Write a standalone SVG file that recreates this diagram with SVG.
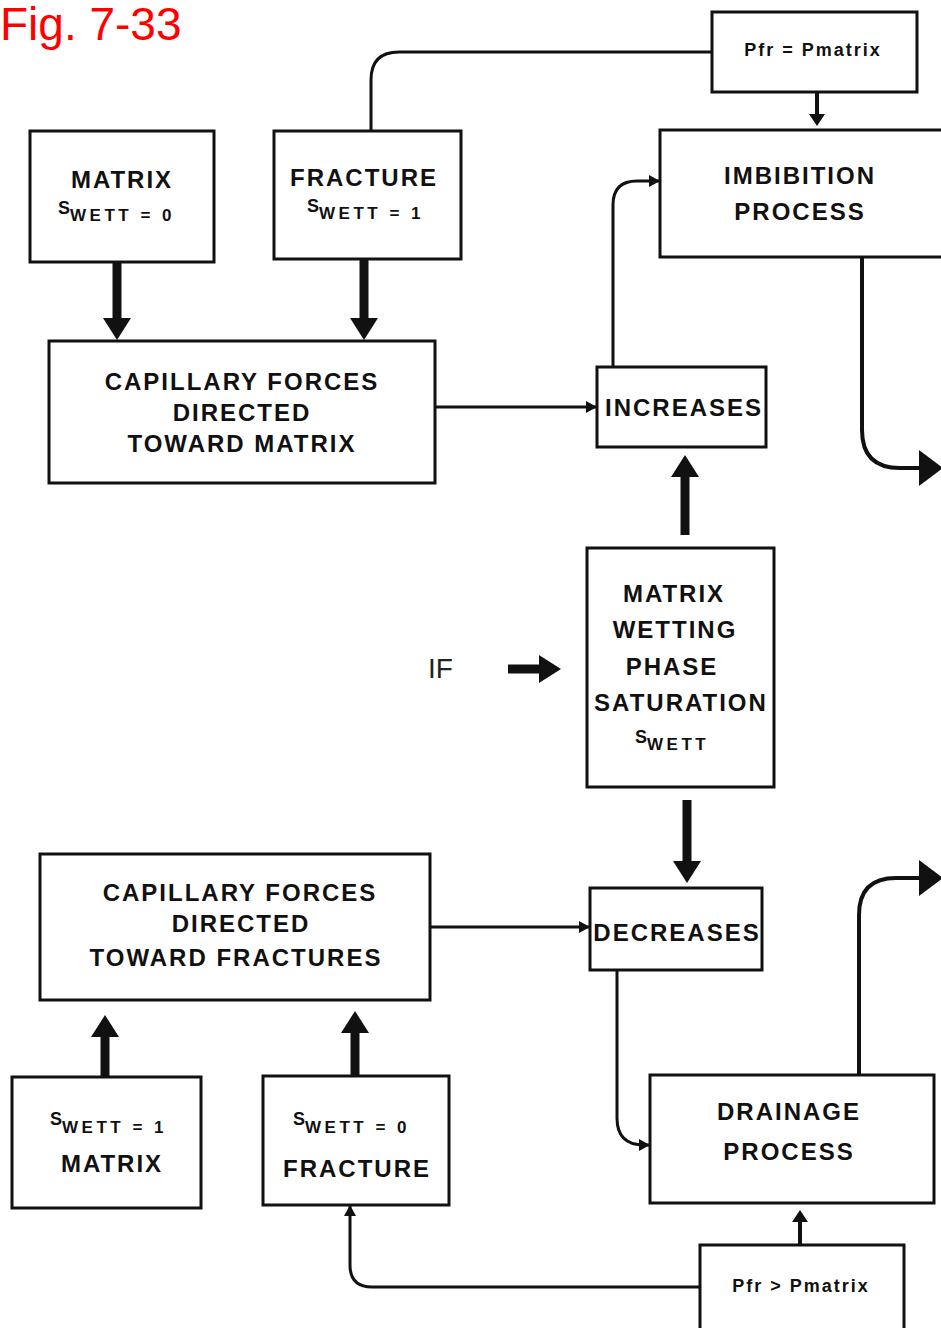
<svg xmlns="http://www.w3.org/2000/svg" width="941" height="1328" viewBox="0 0 941 1328">
<style>
.box{fill:#fff;stroke:#111;stroke-width:3}
.t{font-family:"Liberation Sans",Arial,sans-serif;font-weight:bold;font-size:24px;letter-spacing:2px;fill:#111;text-anchor:middle}
.s{font-family:"Liberation Sans",Arial,sans-serif;font-weight:bold;font-size:18px;fill:#111}
.sub{font-size:17px;letter-spacing:3.5px}
.p{font-family:"Liberation Sans",Arial,sans-serif;font-weight:bold;font-size:18px;letter-spacing:2px;fill:#111;text-anchor:middle}
.thin{fill:none;stroke:#111;stroke-width:3}
.thick{fill:none;stroke:#111;stroke-width:9}
.mid{fill:none;stroke:#111;stroke-width:4}
</style>
<defs>
<marker id="big" viewBox="-8 -16 26 32" markerWidth="26" markerHeight="32" refX="0" refY="0" markerUnits="userSpaceOnUse" orient="auto" overflow="visible">
<path d="M-6,-14 L16,0 L-6,14 Z" fill="#111"/>
</marker>
<marker id="sm" viewBox="-4 -7 14 14" markerWidth="14" markerHeight="14" refX="8" refY="0" markerUnits="userSpaceOnUse" orient="auto" overflow="visible">
<path d="M-3,-6 L8,0 L-3,6 Z" fill="#111"/>
</marker>
<marker id="md" viewBox="-4 -10 20 20" markerWidth="20" markerHeight="20" refX="0" refY="0" markerUnits="userSpaceOnUse" orient="auto" overflow="visible">
<path d="M-2,-8 L10,0 L-2,8 Z" fill="#111"/>
</marker>
<marker id="edge" viewBox="-8 -22 30 44" markerWidth="30" markerHeight="44" refX="0" refY="0" markerUnits="userSpaceOnUse" orient="auto" overflow="visible">
<path d="M-6,-18 L18,0 L-6,18 Z" fill="#111"/>
</marker>
</defs>
<rect width="941" height="1328" fill="#fff"/>
<text x="0" y="40" font-family="Liberation Sans,Arial,sans-serif" font-size="46" fill="#ff0000">Fig. 7-33</text>

<g id="connectors">
<path class="thin" d="M371,131 V80 Q371,52 399,52 H712"/>
<path class="mid" d="M817,92 V116" marker-end="url(#md)"/>
<path class="thin" d="M435,407 H597" marker-end="url(#sm)"/>
<path class="thin" d="M613,367 V205 Q613,181 637,181 H660" marker-end="url(#sm)"/>
<path class="mid" d="M862,257 V430 Q862,468 900,468 H925" marker-end="url(#edge)"/>
<path class="thick" d="M117,262 V324" marker-end="url(#big)"/>
<path class="thick" d="M364,259 V324" marker-end="url(#big)"/>
<path class="thick" d="M685,535 V471" marker-end="url(#big)"/>
<path class="thick" d="M508,669 H545" marker-end="url(#big)"/>
<path class="thick" d="M687,800 V867" marker-end="url(#big)"/>
<path class="thin" d="M430,927 H590" marker-end="url(#sm)"/>
<path class="thin" d="M617,970 V1118 Q617,1145 644,1145 H650" marker-end="url(#sm)"/>
<path class="mid" d="M859,1075 V915 Q859,878 896,878 H925" marker-end="url(#edge)"/>
<path class="thick" d="M105,1077 V1031" marker-end="url(#big)"/>
<path class="thick" d="M355,1076 V1027" marker-end="url(#big)"/>
<path class="mid" d="M800,1245 V1220" marker-end="url(#md)"/>
<path class="thin" d="M700,1287 H372 Q350,1287 350,1265 V1205" marker-end="url(#sm)"/>
</g>

<g id="pfr-eq">
<rect class="box" x="712" y="12" width="205" height="80"/>
<text class="p" x="813" y="56">Pfr = Pmatrix</text>
</g>
<g id="matrix-top">
<rect class="box" x="30" y="131" width="184" height="131"/>
<text class="t" x="122" y="188">MATRIX</text>
<text class="s" x="58" y="214">S<tspan class="sub" dy="7">WETT = 0</tspan></text>
</g>
<g id="fracture-top">
<rect class="box" x="274" y="131" width="187" height="128"/>
<text class="t" x="364" y="186">FRACTURE</text>
<text class="s" x="307" y="212">S<tspan class="sub" dy="7">WETT = 1</tspan></text>
</g>
<g id="imbibition">
<rect class="box" x="660" y="130" width="290" height="127"/>
<text class="t" x="800" y="184">IMBIBITION</text>
<text class="t" x="800" y="220">PROCESS</text>
</g>
<g id="cap-matrix">
<rect class="box" x="49" y="341" width="386" height="142"/>
<text class="t" x="242" y="390">CAPILLARY FORCES</text>
<text class="t" x="242" y="421">DIRECTED</text>
<text class="t" x="242" y="452">TOWARD MATRIX</text>
</g>
<g id="increases">
<rect class="box" x="597" y="367" width="169" height="80"/>
<text class="t" x="684" y="416">INCREASES</text>
</g>
<g id="if">
<text x="428" y="678" font-family="Liberation Sans,Arial,sans-serif" font-size="28" fill="#222">IF</text>
</g>
<g id="saturation">
<rect class="box" x="587" y="548" width="187" height="239"/>
<text class="t" x="674" y="602">MATRIX</text>
<text class="t" x="675" y="638">WETTING</text>
<text class="t" x="672" y="675">PHASE</text>
<text class="t" x="681" y="711">SATURATION</text>
<text class="s" x="635" y="743">S<tspan class="sub" dy="7">WETT</tspan></text>
</g>
<g id="cap-fractures">
<rect class="box" x="40" y="854" width="390" height="146"/>
<text class="t" x="240" y="901">CAPILLARY FORCES</text>
<text class="t" x="241" y="932">DIRECTED</text>
<text class="t" x="236" y="966">TOWARD FRACTURES</text>
</g>
<g id="decreases">
<rect class="box" x="590" y="888" width="172" height="82"/>
<text class="t" x="677" y="941">DECREASES</text>
</g>
<g id="drainage">
<rect class="box" x="650" y="1075" width="284" height="128"/>
<text class="t" x="789" y="1120">DRAINAGE</text>
<text class="t" x="789" y="1160">PROCESS</text>
</g>
<g id="matrix-bottom">
<rect class="box" x="12" y="1077" width="189" height="131"/>
<text class="s" x="50" y="1125">S<tspan class="sub" dy="8">WETT = 1</tspan></text>
<text class="t" x="112" y="1172">MATRIX</text>
</g>
<g id="fracture-bottom">
<rect class="box" x="263" y="1076" width="186" height="129"/>
<text class="s" x="293" y="1125">S<tspan class="sub" dy="8">WETT = 0</tspan></text>
<text class="t" x="357" y="1177">FRACTURE</text>
</g>
<g id="pfr-gt">
<rect class="box" x="700" y="1245" width="204" height="90"/>
<text class="p" x="801" y="1292">Pfr &gt; Pmatrix</text>
</g>
</svg>
